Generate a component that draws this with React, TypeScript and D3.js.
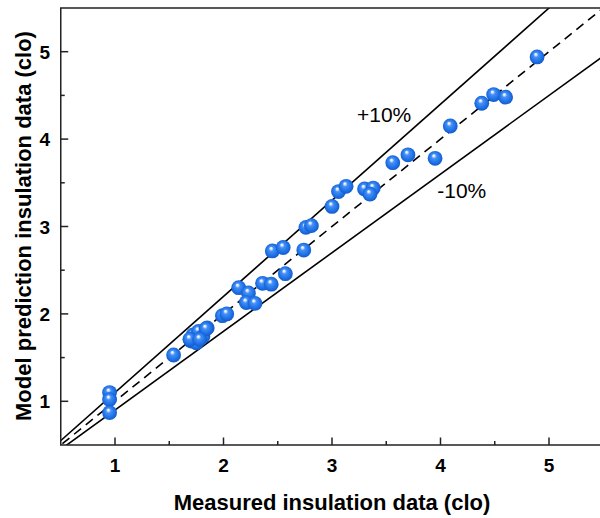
import React, { useEffect, useRef } from "react";
import * as d3 from "d3";

// measured (x) vs model prediction (y), clo
const measured = [
  0.95, 0.95, 0.95, 1.54, 1.70, 1.72, 1.75, 1.77, 1.69, 1.81, 1.85, 1.84, 1.78,
  1.99, 2.03, 2.14, 2.23, 2.21, 2.29, 2.36, 2.44, 2.57, 2.45, 2.55, 2.74, 2.76,
  2.81, 3.00, 3.06, 3.13, 3.30, 3.38, 3.35, 3.56, 3.70, 3.95, 4.09, 4.38, 4.49,
  4.60, 4.89,
];
const predicted = [
  1.10, 1.02, 0.87, 1.53, 1.69, 1.76, 1.67, 1.80, 1.71, 1.74, 1.84, 1.83, 1.71,
  1.98, 2.00, 2.30, 2.24, 2.13, 2.12, 2.35, 2.34, 2.46, 2.72, 2.76, 2.73, 2.99,
  3.01, 3.23, 3.40, 3.46, 3.43, 3.44, 3.37, 3.73, 3.82, 3.78, 4.15, 4.41, 4.51,
  4.48, 4.94,
];

const ticks = [1, 2, 3, 4, 5];
const minorTicks = [1.5, 2.5, 3.5, 4.5];
const bandLines = [
  { k: 1.1, dash: null },
  { k: 1.0, dash: "9,6" },
  { k: 0.9, dash: null },
];
const bandLabels = [
  { text: "+10%", x: 3.23, y: 4.19 },
  { text: "-10%", x: 3.97, y: 3.33 },
];

const App = () => {
  const ref = useRef<SVGSVGElement | null>(null);

  useEffect(() => {
    drawChart();
  }, []);

  const drawChart = () => {
    const left = 60.75,
      right = 603.25,
      top = 8,
      bottom = 445;

    const svg = d3.select(ref.current);
    svg.selectAll("*").remove();

    const x = d3.scaleLinear().domain([0.5, 5.5]).range([left, right]);
    const y = d3.scaleLinear().domain([0.5, 5.5]).range([bottom, top]);

    const defs = svg.append("defs");
    defs
      .append("clipPath")
      .attr("id", "plot-clip")
      .append("rect")
      .attr("x", left)
      .attr("y", top)
      .attr("width", right - left)
      .attr("height", bottom - top);

    const grad = defs
      .append("radialGradient")
      .attr("id", "ball")
      .attr("cx", "50%")
      .attr("cy", "50%")
      .attr("r", "55%")
      .attr("fx", "40%")
      .attr("fy", "30%");
    [
      ["0%", "#ffffff"],
      ["12%", "#d9e8ff"],
      ["30%", "#4690f5"],
      ["70%", "#1e70e6"],
      ["100%", "#0f55c4"],
    ].forEach(([o, c]) => grad.append("stop").attr("offset", o).attr("stop-color", c));

    // reference lines
    const lineG = svg.append("g").attr("clip-path", "url(#plot-clip)");
    bandLines.forEach((b) => {
      const line = d3
        .line<number>()
        .x((d) => x(d))
        .y((d) => y(d * b.k));
      lineG
        .append("path")
        .datum([0.3, 6])
        .attr("d", line)
        .attr("fill", "none")
        .attr("stroke", "#000")
        .attr("stroke-width", 1.6)
        .attr("stroke-dasharray", b.dash);
    });

    // frame
    svg
      .append("rect")
      .attr("x", left)
      .attr("y", top)
      .attr("width", right - left)
      .attr("height", bottom - top)
      .attr("fill", "none")
      .attr("stroke", "#222")
      .attr("stroke-width", 1.5);

    const tickG = svg.append("g").attr("stroke", "#222").attr("stroke-width", 1.5);
    ticks.forEach((t) => {
      tickG.append("line").attr("x1", x(t)).attr("x2", x(t)).attr("y1", bottom).attr("y2", bottom - 7.5);
      tickG.append("line").attr("y1", y(t)).attr("y2", y(t)).attr("x1", left).attr("x2", left + 7.5);
    });
    minorTicks.forEach((t) => {
      tickG.append("line").attr("x1", x(t)).attr("x2", x(t)).attr("y1", bottom).attr("y2", bottom - 4);
      tickG.append("line").attr("y1", y(t)).attr("y2", y(t)).attr("x1", left).attr("x2", left + 4);
    });

    const font = "'Liberation Sans', Arial, sans-serif";
    svg
      .append("g")
      .selectAll("text")
      .data(ticks)
      .join("text")
      .attr("x", (d) => x(d))
      .attr("y", 472)
      .attr("text-anchor", "middle")
      .style("font-family", font)
      .style("font-weight", "bold")
      .style("font-size", "19px")
      .text((d) => d);

    svg
      .append("g")
      .selectAll("text")
      .data(ticks)
      .join("text")
      .attr("x", 50)
      .attr("y", (d) => y(d) + 7)
      .attr("text-anchor", "end")
      .style("font-family", font)
      .style("font-weight", "bold")
      .style("font-size", "19px")
      .text((d) => d);

    svg
      .append("text")
      .attr("x", 332)
      .attr("y", 510)
      .attr("text-anchor", "middle")
      .style("font-family", font)
      .style("font-weight", "bold")
      .style("font-size", "22px")
      .text("Measured insulation data (clo)");

    svg
      .append("text")
      .attr("transform", "translate(31,226) rotate(-90)")
      .attr("text-anchor", "middle")
      .style("font-family", font)
      .style("font-weight", "bold")
      .style("font-size", "22px")
      .text("Model prediction insulation data (clo)");

    svg
      .append("g")
      .selectAll("text")
      .data(bandLabels)
      .join("text")
      .attr("x", (d) => x(d.x))
      .attr("y", (d) => y(d.y))
      .style("font-family", font)
      .style("font-size", "21px")
      .text((d) => d.text);

    // points
    svg
      .append("g")
      .selectAll("circle")
      .data(measured)
      .join("circle")
      .attr("cx", (d) => x(d))
      .attr("cy", (d, i) => y(predicted[i]))
      .attr("r", 7.4)
      .attr("fill", "url(#ball)");
  };

  return (
    <svg
      ref={ref}
      width={600}
      height={518}
      style={{ position: "absolute", left: 0, top: 0, background: "#fff" }}
    ></svg>
  );
};

export default App;
